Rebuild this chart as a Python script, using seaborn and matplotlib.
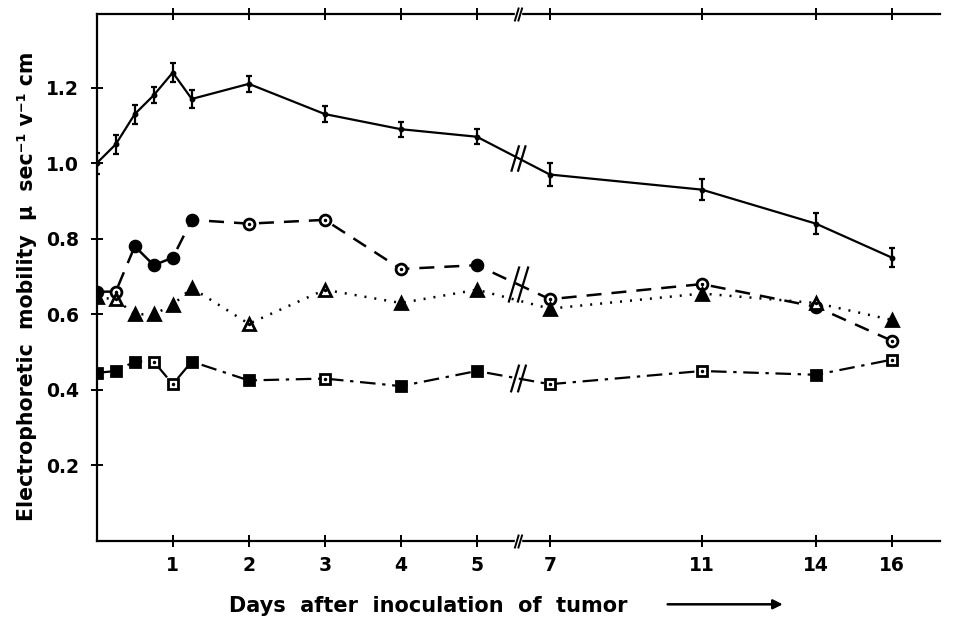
import numpy as np
import pandas as pd
import matplotlib
matplotlib.use("Agg")
import matplotlib.pyplot as plt
import seaborn as sns
from matplotlib.path import Path

# ---------------- data ----------------
days = [0, 0.25, 0.5, 0.75, 1, 1.25, 2, 3, 4, 5, 7, 11, 14, 16]

control = [1.00, 1.05, 1.13, 1.18, 1.24, 1.17, 1.21, 1.13, 1.09, 1.07, 0.97, 0.93, 0.84, 0.75]
control_err = [0.028, 0.025, 0.025, 0.022, 0.025, 0.025, 0.022, 0.022, 0.02, 0.02, 0.03, 0.028, 0.028, 0.025]

circles = [0.66, 0.66, 0.78, 0.73, 0.75, 0.85, 0.84, 0.85, 0.72, 0.73, 0.64, 0.68, 0.62, 0.53]
circles_filled = [True, False, True, True, True, True, False, False, False, True, False, False, True, False]

triangles = [0.645, 0.64, 0.60, 0.60, 0.625, 0.67, 0.575, 0.665, 0.63, 0.665, 0.615, 0.655, 0.63, 0.585]
triangles_filled = [True, False, True, True, True, True, False, False, True, True, True, True, False, True]

squares = [0.445, 0.45, 0.475, 0.475, 0.415, 0.475, 0.425, 0.43, 0.41, 0.45, 0.415, 0.45, 0.44, 0.48]
squares_filled = [True, True, True, False, False, True, True, False, True, True, False, False, True, False]

xticks = [1, 2, 3, 4, 5, 7, 11, 14, 16]
yticks = [0.2, 0.4, 0.6, 0.8, 1.0, 1.2]

# ---------------- broken x scale ----------------
def fwd(d):
    d = np.asarray(d, dtype=float)
    return np.where(d <= 5, d, np.where(d <= 7, 5 + (d - 5) * 0.48, 5.96 + (d - 7) * 0.5))

def inv(p):
    p = np.asarray(p, dtype=float)
    return np.where(p <= 5, p, np.where(p <= 5.96, 5 + (p - 5) / 0.48, 7 + (p - 5.96) / 0.5))

BREAK_DAY = 6.125  # position of the "//" between 5 and 7

sns.set_theme(style="white")
plt.rcParams["font.family"] = ["DejaVu Sans"]
plt.rcParams["font.weight"] = "bold"
for k in ["text.color", "axes.labelcolor", "xtick.color", "ytick.color", "axes.edgecolor"]:
    plt.rcParams[k] = "black"

fig = plt.figure(figsize=(9.58, 6.23), dpi=100)
ax = fig.add_axes([0.101, 0.1316, 0.880, 0.846])
ax.set_xscale("function", functions=(fwd, inv))

df = pd.DataFrame({"day": days, "control": control, "circles": circles,
                   "triangles": triangles, "squares": squares})

# lines
sns.lineplot(data=df, x="day", y="control", ax=ax, color="black", lw=1.6,
             linestyle="-", estimator=None)
sns.lineplot(data=df, x="day", y="circles", ax=ax, color="black", lw=1.8,
             estimator=None).lines[-1].set_dashes([6, 4])
sns.lineplot(data=df, x="day", y="triangles", ax=ax, color="black", lw=1.8,
             estimator=None).lines[-1].set_dashes([0.8, 3.2])
sns.lineplot(data=df, x="day", y="squares", ax=ax, color="black", lw=1.6,
             estimator=None).lines[-1].set_dashes([7, 3, 1.5, 3])

# error bars on the top series
ax.errorbar(days, control, yerr=control_err, fmt="o", color="black", ms=3.2,
            elinewidth=1.6, capsize=2.3, capthick=1.6, zorder=5)

# markers
def draw_markers(vals, filled, marker, size):
    for d, v, f in zip(days, vals, filled):
        ax.plot([d], [v], marker=marker, ms=size, mfc="black" if f else "white",
                mec="black", mew=2.0, zorder=6, ls="none")
        if not f:
            ax.plot([d], [v], marker=".", ms=3, color="black", zorder=7, ls="none")

draw_markers(circles, circles_filled, "o", 7.8)
draw_markers(triangles, triangles_filled, "^", 8.5)
draw_markers(squares, squares_filled, "s", 6.8)

# break marks
brk = Path([(-0.55, -1), (0.05, 1), (-0.05, -1), (0.55, 1)],
           [Path.MOVETO, Path.LINETO, Path.MOVETO, Path.LINETO])
frac = (fwd(BREAK_DAY) - fwd(5)) / (fwd(7) - fwd(5))
for vals, ms in [(control, 19), (circles, 26), (squares, 20)]:
    yb = vals[9] + (vals[10] - vals[9]) * frac
    ax.plot([BREAK_DAY], [yb], marker=brk, ms=ms, mec="black", mfc="none",
            mew=1.6, zorder=8, ls="none")
ylim_top = 1.395
for yb in (0, ylim_top):
    ax.plot([BREAK_DAY], [yb], marker="s", ms=5, mec="white", mfc="white",
            clip_on=False, zorder=9, ls="none")
    ax.plot([BREAK_DAY], [yb], marker=brk, ms=10, mec="black", mfc="none",
            mew=1.4, clip_on=False, zorder=10, ls="none")

# axes
ax.set_xlim(0, 17.26)
ax.set_ylim(0, ylim_top)
ax.set_xticks(xticks)
ax.set_xticklabels([str(t) for t in xticks])
ax.set_yticks(yticks)
ax.set_yticklabels([f"{t:.1f}" for t in yticks])
ax.xaxis.set_minor_locator(matplotlib.ticker.NullLocator())
ax.tick_params(axis="x", which="major", direction="inout", length=9, width=1.4,
               top=True, bottom=True, labelsize=13.5, pad=6, color="black")
ax.tick_params(axis="y", which="major", direction="inout", length=8, width=1.4,
               left=True, labelsize=13.5, pad=9, color="black")
for lab in ax.get_xticklabels() + ax.get_yticklabels():
    lab.set_fontweight("bold")
for s in ["left", "bottom", "top"]:
    ax.spines[s].set_visible(True)
    ax.spines[s].set_color("black")
    ax.spines[s].set_linewidth(1.6)
ax.spines["right"].set_visible(False)
ax.grid(False)
ax.set_xlabel("")
ax.set_ylabel("")

fig.text(0.028, 0.541, "Electrophoretic  mobility  \u03bc  sec\u207b\u00b9 v\u207b\u00b9 cm",
         rotation=90, ha="center", va="center", fontsize=14.8, fontweight="bold")
fig.text(0.447, 0.028, "Days  after  inoculation  of  tumor", ha="center",
         va="center", fontsize=15, fontweight="bold")
fig.add_artist(matplotlib.patches.FancyArrowPatch(
    (0.694, 0.03), (0.82, 0.03), transform=fig.transFigure, arrowstyle="-|>",
    mutation_scale=14, lw=1.8, color="black"))

fig.savefig("out.png", dpi=100)
